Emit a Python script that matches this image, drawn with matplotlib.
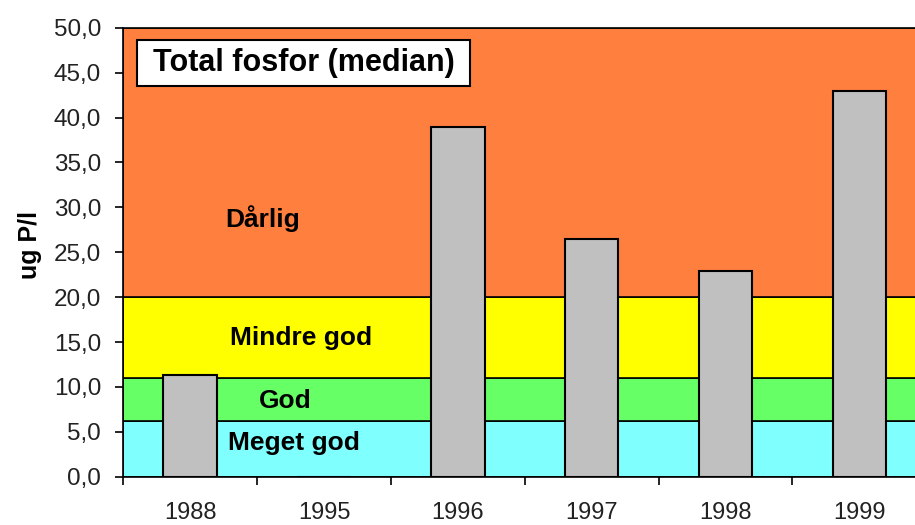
import matplotlib.pyplot as plt
from matplotlib.patches import Rectangle
import numpy as np

plt.rcParams['font.family'] = ['Liberation Sans', 'DejaVu Sans']

years = ["1988", "1995", "1996", "1997", "1998", "1999"]
values = [11.3, 0.0, 39.0, 26.5, 22.9, 43.0]

# tilstandsklasser (grenser i ug P/l)
class_names = ["Meget god", "God", "Mindre god", "Dårlig"]
class_limits = [0.0, 6.25, 11.0, 20.0, 50.0]
class_colors = ["#80FFFF", "#66FF66", "#FFFF00", "#FF7F3F"]

fig = plt.figure(figsize=(9.15, 5.25), dpi=100)
ax = fig.add_axes([123.3 / 915, 0.092, 803 / 915, 0.855])

for lo, hi, c in zip(class_limits[:-1], class_limits[1:], class_colors):
    ax.axhspan(lo, hi, facecolor=c, edgecolor="black", linewidth=1.2, zorder=0)

x = np.arange(len(years))
ax.bar(x, values, width=0.40, color="#C0C0C0", edgecolor="black", linewidth=1.5, zorder=2)

ax.set_xlim(-0.5, len(years) - 0.5)
ax.set_ylim(0, 50)
yt = np.arange(0, 50.1, 5)
ax.set_yticks(yt)
ax.set_yticklabels(["{:.1f}".format(v).replace(".", ",") for v in yt])
ax.set_xticks(x)
ax.set_xticklabels(years)
ax.set_xticks(np.arange(-0.5, len(years)), minor=True)
ax.tick_params(axis="x", which="major", length=0, pad=18, labelsize=17, labelcolor="#222222")
ax.tick_params(axis="x", which="minor", length=6, width=1.2, direction="out")
ax.tick_params(axis="y", length=6, width=1.2, direction="out", labelsize=17.5, pad=10,
               labelcolor="#222222")
ax.set_ylabel("ug P/l", fontsize=18, fontweight="bold")
ax.yaxis.set_label_coords(-0.101, 0.516)

for s in ax.spines.values():
    s.set_linewidth(1.2)

label_pos = [(0.776, 3.75), (0.707, 8.45), (0.828, 15.45), (0.54, 28.8)]
for name, (lx, ly) in zip(class_names, label_pos):
    ax.text(lx, ly, name, ha="center", va="center", fontsize=19, fontweight="bold", zorder=3)

ax.add_patch(Rectangle((0.017, 0.870), 0.415, 0.103, transform=ax.transAxes,
                       facecolor="white", edgecolor="black", linewidth=1.5, zorder=4))
ax.text(0.2245, 0.921, "Total fosfor (median)", transform=ax.transAxes, ha="center", va="center",
        fontsize=22, fontweight="bold", zorder=5)

fig.savefig("out.png", dpi=100)
